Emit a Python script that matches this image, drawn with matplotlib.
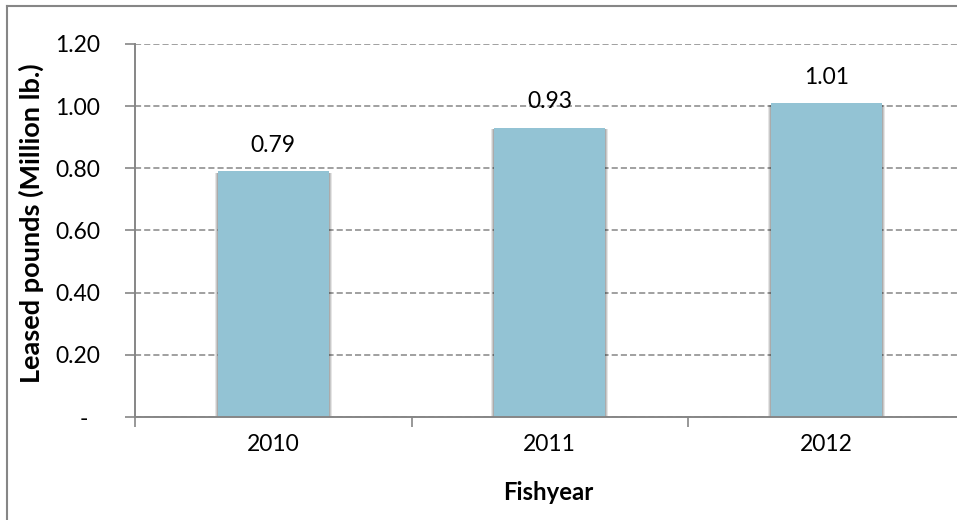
import matplotlib
matplotlib.use("Agg")
import matplotlib.pyplot as plt
from matplotlib.lines import Line2D
from matplotlib.patches import Rectangle

categories = ["2010", "2011", "2012"]
values = [0.79, 0.93, 1.01]
value_labels = ["0.79", "0.93", "1.01"]
yticks = [0.0, 0.2, 0.4, 0.6, 0.8, 1.0, 1.2]
ytick_labels = ["-  ", "0.20", "0.40", "0.60", "0.80", "1.00", "1.20"]

plt.rcParams['font.family'] = ['Lato', 'DejaVu Sans']

W, H = 957, 520
fig = plt.figure(figsize=(W / 100, H / 100), dpi=100)
fig.patch.set_facecolor("white")

ax_l, ax_r, ax_t, ax_b = 135, 964.5, 44, 417
ax = fig.add_axes([ax_l / W, 1 - ax_b / H, (ax_r - ax_l) / W, (ax_b - ax_t) / H])
ax.set_xlim(-0.5, 2.5)
ax.set_ylim(0, 1.2)

grey = "#868686"
bar_color = "#93C3D4"
bw = 0.40
x = list(range(len(categories)))

# soft shadow
for i, v in zip(x, values):
    for k, (off, a) in enumerate([(0.012, 0.10), (0.008, 0.12), (0.004, 0.15)]):
        ax.add_patch(Rectangle((i - bw / 2 - off, 0), bw + 2 * off, v - 0.005,
                               facecolor="black", alpha=a, edgecolor="none", zorder=2))
ax.bar(x, values, width=bw, color=bar_color, zorder=3)

for i, v, lab in zip(x, values, value_labels):
    ax.text(i, v + 0.05, lab, ha="center", va="bottom", fontsize=16.5, color="black")

ax.set_yticks(yticks)
ax.set_yticklabels(ytick_labels, fontsize=16.5)
ax.yaxis.grid(True, color=grey, linestyle=(0, (4, 2)), linewidth=1.1)
ax.set_axisbelow(True)
ax.tick_params(axis="y", length=7, width=1.2, color=grey, pad=18, direction="out")

ax.set_xticks([-0.5, 0.5, 1.5, 2.5])
ax.set_xticklabels([])
ax.set_xticks(x, minor=True)
ax.set_xticklabels(categories, minor=True, fontsize=16.5)
ax.tick_params(axis="x", which="major", length=7, width=1.2, color=grey, direction="out")
ax.tick_params(axis="x", which="minor", length=0, pad=12)

for s in ["top", "right"]:
    ax.spines[s].set_visible(False)
for s in ["left", "bottom"]:
    ax.spines[s].set_color(grey)
    ax.spines[s].set_linewidth(1.4)
    ax.spines[s].set_zorder(4)

fig.text(548.5 / W, 1 - 492 / H, "Fishyear", ha="center", va="center",
         fontsize=17.2, fontweight="bold")
fig.text(31 / W, 1 - 223 / H, "Leased pounds (Million lb.)", ha="center", va="center",
         rotation=90, fontsize=19.5, fontweight="bold")

# chart border (left and top visible)
fig.add_artist(Line2D([7.5 / W, 7.5 / W], [0, 1 - 6 / H], color=grey, linewidth=1.5,
                      transform=fig.transFigure))
fig.add_artist(Line2D([7.5 / W, 1], [1 - 6 / H, 1 - 6 / H], color=grey, linewidth=1.5,
                      transform=fig.transFigure))

fig.savefig("out.png", dpi=100)
